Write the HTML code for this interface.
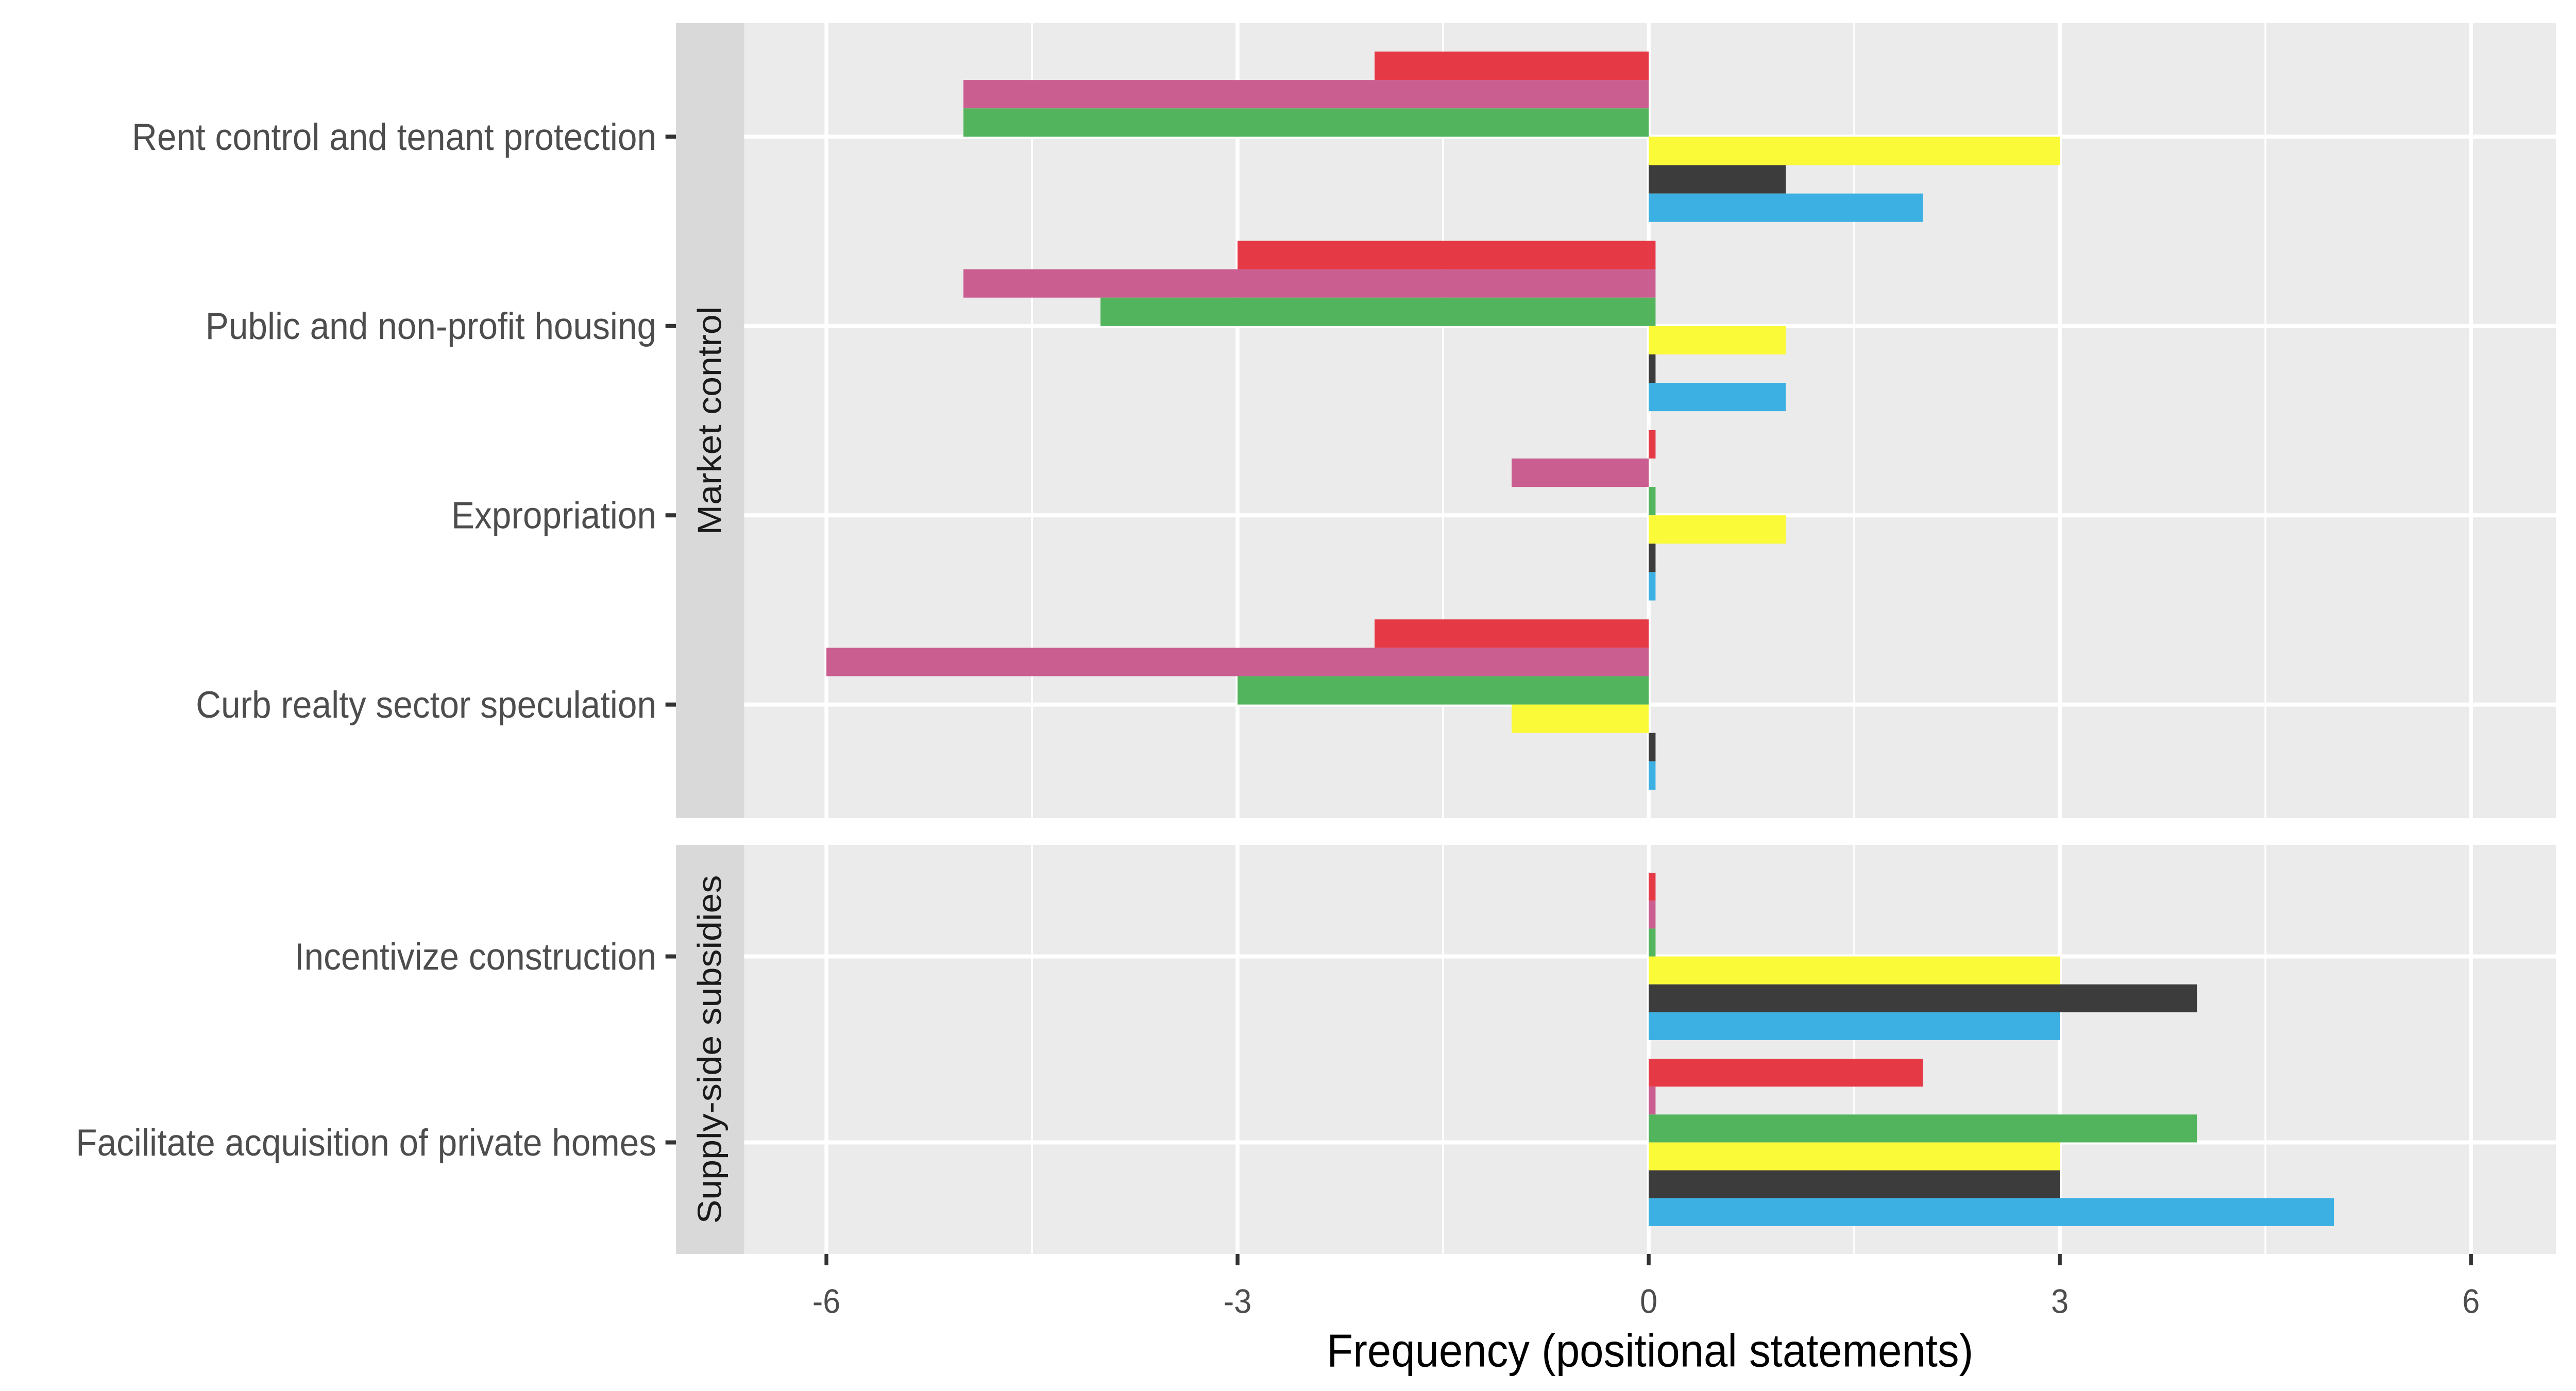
<!DOCTYPE html>
<html><head><meta charset="utf-8"><style>
html,body{margin:0;padding:0;background:#fff;width:100%;height:100%;overflow:hidden;}
svg{display:block;position:fixed;left:0;top:0;width:100vw;height:100vh;}
text{font-family:"Liberation Sans",sans-serif;}
</style></head><body>
<svg id="chart" viewBox="0 0 5400 2700" preserveAspectRatio="none" xmlns="http://www.w3.org/2000/svg"></svg>
<script>
// ---- data ----
const parties = ["red","pink","green","yellow","black","blue"];
const partyColors = ["#e63946","#ca5e90","#52b45c","#fafa38","#3c3c3c","#3cb0e2"];
const panelNames = ["Market control","Supply-side subsidies"];
const panel1Cats = ["Rent control and tenant protection","Public and non-profit housing","Expropriation","Curb realty sector speculation"];
const panel2Cats = ["Incentivize construction","Facilitate acquisition of private homes"];
// values per category (order: red,pink,green,yellow,black,blue); null = none
const panel1Neg = [[-2,-5,-5,null,null,null],[-3,-5,-4,null,null,null],[null,-1,null,null,null,null],[-2,-6,-3,-1,null,null]];
const panel1Pos = [[null,null,null,3,1,2],[0.05,0.05,0.05,1,0.05,1],[0.05,null,0.05,1,0.05,0.05],[null,null,null,null,0.05,0.05]];
const panel2Neg = [[null,null,null,null,null,null],[null,null,null,null,null,null]];
const panel2Pos = [[0.05,0.05,0.05,3,4,3],[2,0.05,4,3,3,5]];
const xTicks = [-6,-3,0,3,6];
const xMinor = [-4.5,-1.5,1.5,4.5];
const xTitle = "Frequency (positional statements)";

// ---- layout ----
const svg = document.getElementById('chart');
const NS = "http://www.w3.org/2000/svg";
const PL = 1560, PR = 5358, XMIN = -6.6, XMAX = 6.62;
const x = v => PL + (v - XMIN) / (XMAX - XMIN) * (PR - PL);
function mk(tag, attrs){const e=document.createElementNS(NS,tag);for(const k in attrs)e.setAttribute(k,attrs[k]);svg.appendChild(e);return e;}

const panels = [
  {name:panelNames[0], cats:panel1Cats, neg:panel1Neg, pos:panel1Pos, top:45, bot:1588},
  {name:panelNames[1], cats:panel2Cats, neg:panel2Neg, pos:panel2Pos, top:1640, bot:2434}
];

panels.forEach((p, pi) => {
  const n = p.cats.length;
  const step = (p.bot - p.top) / (n - 1 + 1.2);
  const yc = i => p.top + (0.6 + i) * step;
  const bg = mk('rect',{x:PL,y:p.top,width:PR-PL,height:p.bot-p.top,fill:'#ebebeb'});
  
  
  xMinor.forEach(v=>{const l=mk('line',{x1:x(v),x2:x(v),y1:p.top,y2:p.bot,stroke:'#fff','stroke-width':4});
    
    });
  xTicks.forEach(v=>{const l=mk('line',{x1:x(v),x2:x(v),y1:p.top,y2:p.bot,stroke:'#fff','stroke-width':8});
    
    });
  p.cats.forEach((c,i)=>{
    const l=mk('line',{x1:PL,x2:PR,y1:yc(i),y2:yc(i),stroke:'#fff','stroke-width':8});
    
    
  });
  const st = mk('rect',{x:1417,y:p.top,width:PL-1417,height:p.bot-p.top,fill:'#d9d9d9'});
  
  
  const cy=(p.top+p.bot)/2;
  const stt = mk('text',{x:1488,y:cy,'font-size':70,fill:'#1a1a1a','text-anchor':'middle','dominant-baseline':'central',transform:`rotate(-90 1488 ${cy})`});
  stt.textContent = p.name;
  
  
  const bh = step * 0.9 / 6;
  p.cats.forEach((c,i)=>{
    [p.neg[i], p.pos[i]].forEach(arr=>{
      arr.forEach((v,k)=>{
        if(v===null) return;
        const y0 = yc(i) + (k - 3) * bh;
        const x0 = Math.min(x(0), x(v)), w = Math.abs(x(v)-x(0));
        const r = mk('rect',{x:x0,y:y0,width:w,height:bh,fill:partyColors[k]});
        
        
      });
    });
    const t = mk('line',{x1:1395,x2:1417,y1:yc(i),y2:yc(i),stroke:'#333','stroke-width':8});
    
    
    const lab = mk('text',{x:1376,y:yc(i),'font-size':73,fill:'#4d4d4d','text-anchor':'end','dominant-baseline':'central'});
    lab.textContent = c;
    
    
  });
});

xTicks.forEach(v=>{
  const t = mk('line',{x1:x(v),x2:x(v),y1:2434,y2:2456,stroke:'#333','stroke-width':8});
  
  
  const l = mk('text',{x:x(v),y:2526,'font-size':66,fill:'#4d4d4d','text-anchor':'middle','dominant-baseline':'central'});
  l.textContent = v;
  
  
});
const xt = mk('text',{x:(PL+PR)/2,y:2622,'font-size':90,fill:'#000','text-anchor':'middle','dominant-baseline':'central'});
xt.textContent = xTitle;


</script>
</body></html>
